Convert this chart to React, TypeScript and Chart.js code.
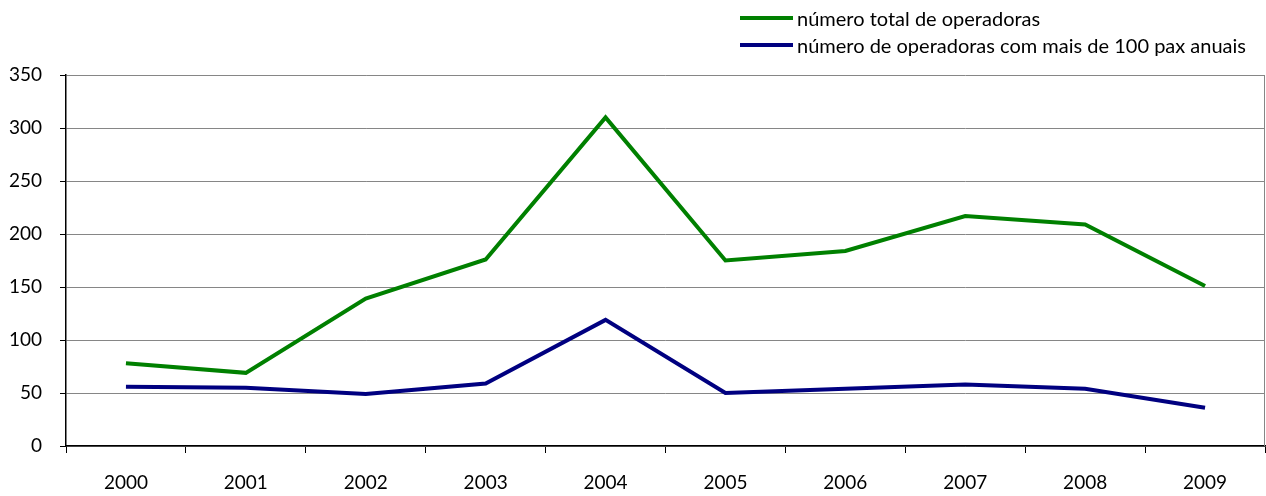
import React, { useEffect, useRef } from "react";
import { Chart, registerables } from "chart.js";

Chart.register(...registerables);

const years = ["2000", "2001", "2002", "2003", "2004", "2005", "2006", "2007", "2008", "2009"];
const totalOperadoras = [78, 69, 139, 176, 310, 175, 184, 217, 209, 151];
const operadoras100Pax = [56, 55, 49, 59, 119, 50, 54, 58, 54, 36];
const seriesNames = ["número total de operadoras", "número de operadoras com mais de 100 pax anuais"];
const seriesColors = ["#008000", "#000080"];

const FONT = "Lato, 'Open Sans', sans-serif";

// Thin gray frame on the right side of the plot area
const rightBorder = {
  id: "rightBorder",
  afterDraw(chart: any) {
    const { ctx, chartArea } = chart;
    ctx.save();
    ctx.strokeStyle = "#868686";
    ctx.lineWidth = 1;
    ctx.beginPath();
    ctx.moveTo(chartArea.right - 0.5, chartArea.top);
    ctx.lineTo(chartArea.right - 0.5, chartArea.bottom);
    ctx.stroke();
    ctx.restore();
  },
};

export default function App() {
  const canvasRef = useRef<HTMLCanvasElement>(null);

  useEffect(() => {
    if (!canvasRef.current) return;
    const chart = new Chart(canvasRef.current, {
      type: "line",
      data: {
        labels: years,
        datasets: [
          {
            label: seriesNames[0],
            data: totalOperadoras,
            borderColor: seriesColors[0],
            backgroundColor: seriesColors[0],
            borderWidth: 4,
            pointRadius: 0,
            tension: 0,
          },
          {
            label: seriesNames[1],
            data: operadoras100Pax,
            borderColor: seriesColors[1],
            backgroundColor: seriesColors[1],
            borderWidth: 4,
            pointRadius: 0,
            tension: 0,
          },
        ],
      },
      options: {
        animation: false,
        responsive: false,
        maintainAspectRatio: false,
        layout: { padding: { top: 75, right: 1, left: 0, bottom: 0 } },
        plugins: { legend: { display: false }, tooltip: { enabled: false } },
        scales: {
          x: {
            offset: true,
            grid: {
              offset: true,
              drawOnChartArea: false,
              drawTicks: true,
              tickLength: 7,
              color: "#000000",
            },
            border: { color: "#000000", width: 1.5 },
            ticks: { color: "#000000", font: { family: FONT, size: 19 }, padding: 18 },
            afterFit(scale: any) {
              scale.height = 50;
            },
          },
          y: {
            min: 0,
            max: 350,
            ticks: { stepSize: 50, color: "#000000", font: { family: FONT, size: 19 }, padding: 18 },
            grid: { color: "#868686", lineWidth: 1, tickLength: 6, tickColor: "#000000" },
            border: { color: "#000000", width: 1.5 },
            afterFit(scale: any) {
              scale.width = 66;
            },
          },
        },
      },
      plugins: [rightBorder],
    });
    return () => chart.destroy();
  }, []);

  return (
    <div style={{ position: "fixed", left: 0, top: 0, width: 1266, height: 496, background: "#fff" }}>
      <canvas ref={canvasRef} width={1266} height={496} style={{ width: 1266, height: 496 }} />
      <div style={{ position: "absolute", left: 740, top: 4, fontFamily: FONT, fontSize: 20, color: "#000" }}>
        {seriesNames.map((name, i) => (
          <div key={name} style={{ display: "flex", alignItems: "center", height: 27 }}>
            <span style={{ display: "inline-block", width: 53, height: 4, background: seriesColors[i], marginRight: 4 }} />
            <span>{name}</span>
          </div>
        ))}
      </div>
    </div>
  );
}
